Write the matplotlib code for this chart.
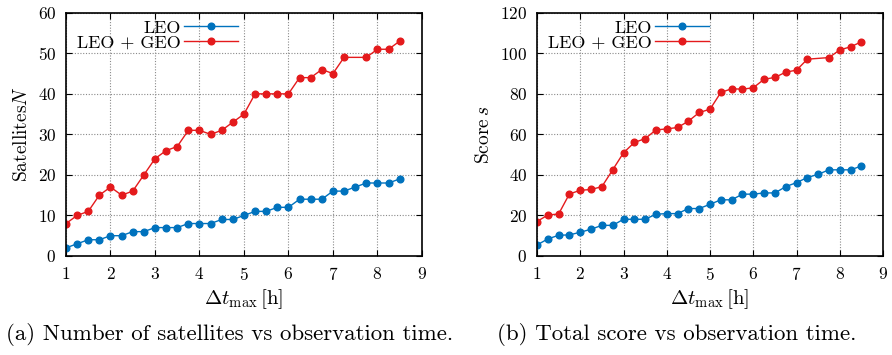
import matplotlib
matplotlib.use('Agg')
import matplotlib.pyplot as plt
import numpy as np

plt.rcParams['font.family'] = 'serif'
plt.rcParams['font.serif'] = ['cmr10']
plt.rcParams['mathtext.fontset'] = 'cm'
plt.rcParams['axes.formatter.use_mathtext'] = True
plt.rcParams['font.size'] = 12

# observation time steps [h]
t_leo = [1, 1.25, 1.5, 1.75, 2, 2.25, 2.5, 2.75, 3, 3.25, 3.5, 3.75, 4, 4.25, 4.5, 4.75,
         5, 5.25, 5.5, 5.75, 6, 6.25, 6.5, 6.75, 7, 7.25, 7.5, 7.75, 8, 8.25, 8.5]
t_geo = [1, 1.25, 1.5, 1.75, 2, 2.25, 2.5, 2.75, 3, 3.25, 3.5, 3.75, 4, 4.25, 4.5, 4.75,
         5, 5.25, 5.5, 5.75, 6, 6.25, 6.5, 6.75, 7, 7.25, 7.75, 8, 8.25, 8.5]

# (a) number of satellites
n_leo = [2, 3, 4, 4, 5, 5, 6, 6, 7, 7, 7, 8, 8, 8, 9, 9,
         10, 11, 11, 12, 12, 14, 14, 14, 16, 16, 17, 18, 18, 18, 19]
n_geo = [8, 10, 11, 15, 17, 15, 16, 20, 24, 26, 27, 31, 31, 30, 31, 33,
         35, 40, 40, 40, 40, 44, 44, 46, 45, 49, 49, 51, 51, 53]

# (b) total score
s_leo = [5.4, 8.4, 10.2, 10.4, 11.7, 13.2, 15.1, 15.1, 18.1, 18.1, 18.1, 20.6, 20.9, 20.9, 23.4, 23.4,
         25.5, 27.7, 27.7, 30.5, 30.5, 31.1, 31.1, 34.2, 36.2, 38.7, 40.3, 42.5, 42.5, 42.5, 44.4]
s_geo = [17.0, 20.2, 20.7, 30.6, 32.4, 32.8, 34.2, 42.5, 50.9, 56.0, 57.9, 62.2, 62.7, 63.4, 66.5, 70.8,
         72.4, 80.7, 82.5, 82.3, 83.0, 87.2, 88.1, 90.7, 91.7, 97.1, 97.9, 101.7, 103.2, 105.7]

blue = '#0072bd'
red = '#e41a1c'

fig = plt.figure(figsize=(8.92, 3.55), dpi=100)
ax1 = fig.add_axes([0.074, 0.279, 0.399, 0.685])
ax2 = fig.add_axes([0.602, 0.279, 0.388, 0.685])


def style(ax, ymax, ystep, ylabel):
    ax.set_xlim(1, 9)
    ax.set_ylim(0, ymax)
    ax.set_xticks(range(1, 10))
    ax.set_yticks(np.arange(0, ymax + 1, ystep))
    ax.grid(True, linestyle=(0, (1, 1.5)), color='#8a8a8a', linewidth=0.8)
    ax.tick_params(direction='in', top=True, right=True, length=4, labelsize=12.5, pad=7)
    for sp in ax.spines.values():
        sp.set_linewidth(1.2)
    ax.set_xlabel(r'$\Delta t_{\max}\,$[h]', fontsize=15, labelpad=3)
    ax.set_ylabel(ylabel, fontsize=14, labelpad=5)


for ax, yl, yg in [(ax1, n_leo, n_geo), (ax2, s_leo, s_geo)]:
    ax.plot(t_leo, yl, color=blue, marker='o', markersize=4.8, linewidth=1, label='LEO')
    ax.plot(t_geo, yg, color=red, marker='o', markersize=4.8, linewidth=1, label='LEO + GEO')
    ax.legend(loc='upper left', bbox_to_anchor=(0.0, 1.015), markerfirst=False, frameon=False,
              handlelength=3.0, handletextpad=0.2, labelspacing=-0.05, fontsize=13,
              borderaxespad=0.2)

style(ax1, 60, 10, r'Satellites$N$')
style(ax2, 120, 20, r'Score$\,s$')

fig.text(0.257, 0.058, '(a) Number of satellites vs observation time.', ha='center', va='center',
         fontsize=16.5)
fig.text(0.759, 0.058, '(b) Total score vs observation time.', ha='center', va='center',
         fontsize=16.5)

plt.savefig('out.png', dpi=100)
